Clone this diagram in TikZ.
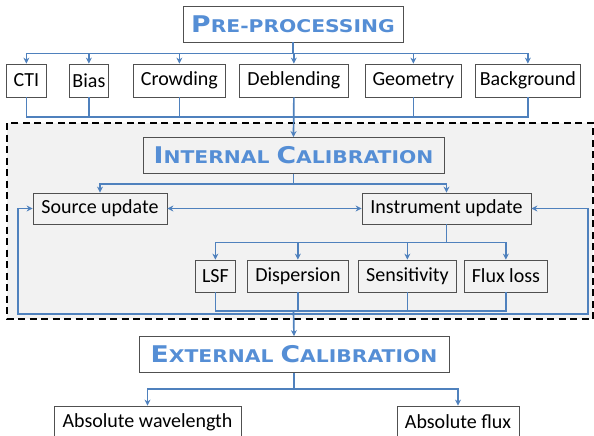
\documentclass[tikz,border=0pt]{standalone}
\usepackage{fontspec}
\setmainfont{Carlito}
\newfontfamily\headfont{DejaVu Sans}
\usepackage{xcolor}
\definecolor{lineblue}{RGB}{79,129,189}
\definecolor{headblue}{RGB}{85,142,213}
\definecolor{boxgray}{RGB}{80,80,80}
\definecolor{calibgray}{RGB}{242,242,242}
\usepackage{tikz}
\usetikzlibrary{arrows.meta}
\newcommand{\hcap}[1]{{\fontsize{23}{23}\selectfont #1}}
\newcommand{\hsc}[1]{{\fontsize{17.5}{17.5}\selectfont #1}}
\newcommand{\heading}[1]{\scalebox{1.16}[1]{\headfont\bfseries\color{headblue}#1}}
\tikzset{
    item/.style={draw=boxgray, line width=0.8pt, rectangle, inner xsep=2pt,
        minimum height=32pt, font=\fontsize{20}{20}\selectfont},
    rowitem/.style={item, anchor=west},
    stage/.style={item, minimum height=36pt, font=\fontsize{17.5}{17.5}\selectfont},
    wire/.style={lineblue, line width=1.7pt},
    link/.style={wire, ->},
    frame/.style={draw=black, fill=calibgray, line width=1.5pt, dash pattern=on 7pt off 4.5pt}
}

\begin{document}
\begin{tikzpicture}[x=1pt, y=-1pt, >={Stealth[length=6pt, width=6pt]}]
      \useasboundingbox (0,0) rectangle (594,436);
      \draw[frame] (7,123) rectangle (593,319);

      \node[stage, minimum width=220pt] (pre) at (293,24) {\heading{\hcap{P}\hsc{RE-PROCESSING}}};
      \path
          (6,80.5) node[rowitem, minimum width=40pt, minimum height=33pt] (cti) {CTI}
          to ++(63,0) node[rowitem, minimum width=39pt, minimum height=33pt] (bias) {Bias}
          to ++(64,0) node[rowitem, minimum width=92pt, minimum height=33pt] (crowd) {Crowding}
          to ++(106,0) node[rowitem, minimum width=109pt, minimum height=33pt] (deblend) {Deblending}
          to ++(126,0) node[rowitem, minimum width=96pt, minimum height=33pt] (geom) {Geometry}
          to ++(110,0) node[rowitem, minimum width=105pt, minimum height=33pt] (backg) {Background};

      \node[stage, minimum width=301pt] (intcal) at (293.5,155.5) {\heading{\hcap{I}\hsc{NTERNAL} \hcap{C}\hsc{ALIBRATION}}};
      \node[item, minimum width=134pt, minimum height=31pt] (srcup) at (100,208.5) {Source update};
      \node[item, minimum width=169pt, minimum height=31pt] (instup) at (446.5,208.5) {Instrument update};
      \path
          (195,276) node[rowitem, minimum width=40pt] (lsf) {LSF}
          to ++(52,0) node[rowitem, minimum width=101pt] (disp) {Dispersion}
          to ++(111,0) node[rowitem, minimum width=98pt] (sens) {Sensitivity}
          to ++(106,0) node[rowitem, minimum width=83pt] (fluxl) {Flux loss};

      \node[stage, minimum width=310pt] (extcal) at (294,354.5) {\heading{\hcap{E}\hsc{XTERNAL} \hcap{C}\hsc{ALIBRATION}}};
      \node[item, minimum width=187pt] (abswave) at (147.5,422) {Absolute wavelength};
      \node[item, minimum width=122pt] (absflux) at (458,422) {Absolute flux};

      \coordinate (prejoin) at (293.5,117);
      \coordinate (calibjoin) at (293.5,311);
      \coordinate (loopjoin) at (293.5,314);
      \coordinate (loopleft) at (18,314);
      \coordinate (loopright) at (588,314);

      \foreach \n in {cti,bias,crowd,deblend,geom,backg}
          \draw[link] (pre.south) -- ++(0,11) -| (\n.north);
      \foreach \n in {cti,bias,crowd,geom,backg}
          \draw[wire] (\n.south) |- (prejoin);
      \draw[link] (deblend.south) -- (intcal.north);

      \foreach \n in {srcup,instup}
          \draw[link] (intcal.south) -- ++(0,10) -| (\n.north);
      \draw[wire, <->] (srcup) -- (instup);
      \foreach \n in {lsf,disp,sens,fluxl}
          \draw[link] (instup.south) -- ++(0,18) -| (\n.north);
      \foreach \n in {lsf,disp,sens,fluxl}
          \draw[wire] (\n.south) |- (calibjoin);
      \draw[link] (loopjoin) -- (loopleft) |- (srcup.west);
      \draw[link] (loopjoin) -- (loopright) |- (instup.east);
      \draw[link] (calibjoin) -- (extcal.north);

      \foreach \n in {abswave,absflux}
          \draw[link] (extcal.south) -- ++(0,16) -| (\n.north);
  \end{tikzpicture}
\end{document}
